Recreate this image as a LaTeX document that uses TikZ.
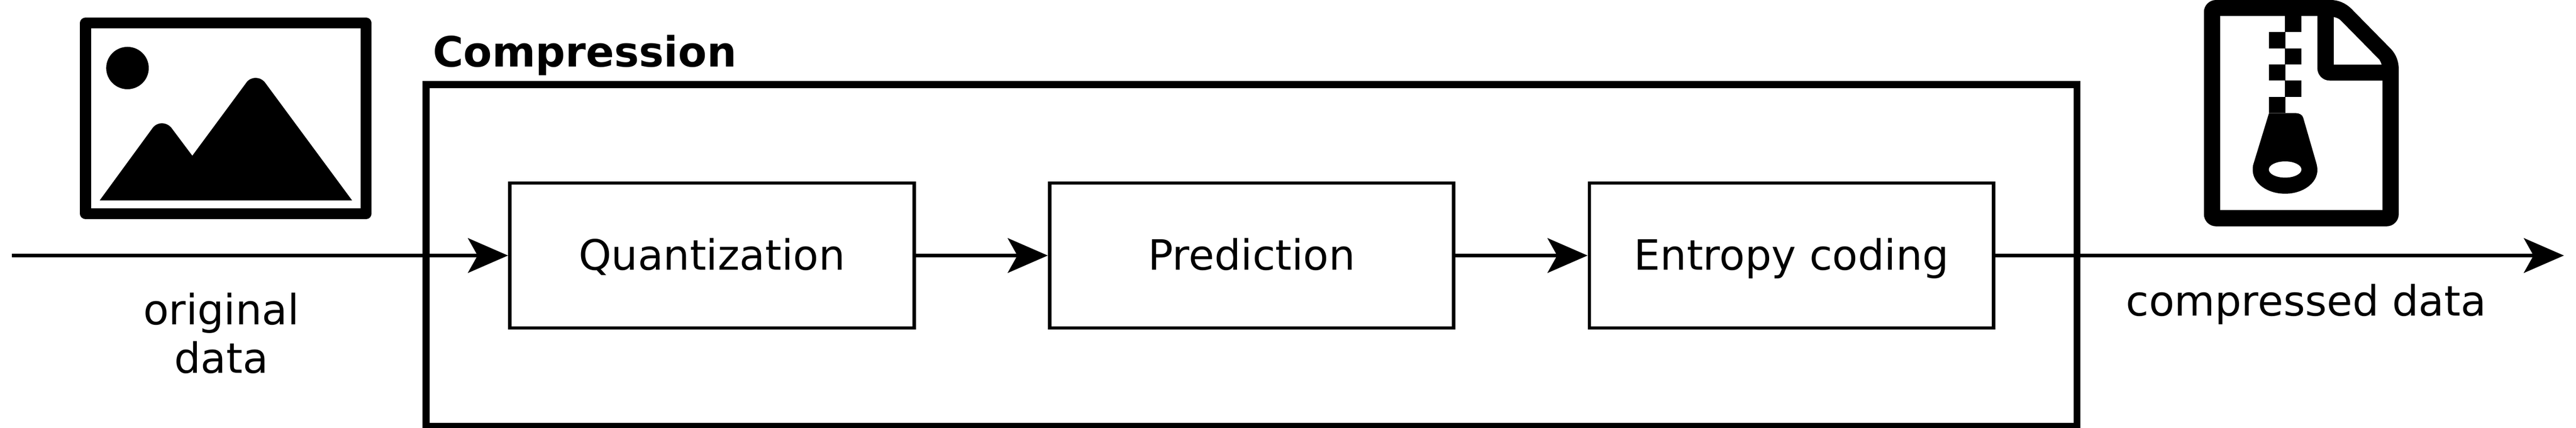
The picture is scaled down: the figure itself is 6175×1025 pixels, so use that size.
\documentclass[tikz,border=0pt]{standalone}
\usepackage{fontspec}
\setmainfont{DejaVu Sans}
\usetikzlibrary{arrows.meta,positioning}
\begin{document}
\begin{tikzpicture}
        [
        x = 0.1pt,
        y = -0.1pt,
        > = {Stealth[length=9.6pt,width=8.3pt,inset=2.3pt]},
        line width = 0.85pt,
        ]
        \tikzstyle{proc node}=[rectangle,draw,minimum width=96.9pt,minimum height=34.7pt,inner sep=0,text height=7pt,text depth=0pt]
        \tikzstyle{group node}=[rectangle,draw,line width=1.7pt,minimum width=395.8pt,minimum height=81.9pt,inner sep=0]
        \tikzstyle{label node}=[anchor=base,inner sep=0,align=center,font=\fontsize{10}{11.67}\selectfont]

        \useasboundingbox (0,0) rectangle (6175,1025);

        \node[group node] (compression) at (3000,612) {};
        \node[label node,font=\bfseries] (title) at (1402,160) {Compression};

        \node[proc node] (quant) at (1706.5,612) {Quantization};
        \node[proc node,right=31.65pt of quant] (pred) {Prediction};
        \node[proc node,right=31.65pt of pred] (entropy) {Entropy coding};

        \coordinate (input) at (28,612);
        \coordinate (output) at (6146,612);

        \draw[->] (input) -- (quant);
        \draw[->] (quant) -- (pred);
        \draw[->] (pred) -- (entropy);
        \draw[->] (entropy) -- (output);

        \node[label node] (origlabel) at (530.5,894) {original\\data};
        \node[label node] (complabel) at (5528,756.7) {compressed data};

        \draw[line width=2.6pt,line join=round] (205,55.3) rectangle (878,511.5);
        \fill (305.6,163) ellipse [x radius=51,y radius=50.7];
        \fill (239,480) -- (367,305) .. controls (378,292) and (398,292) .. (410,305)
            -- (461,373) -- (589,200) .. controls (600,182) and (625,182) .. (637,200)
            -- (844,480) -- cycle;

        \fill (5283,29) .. controls (5283,13) and (5296,0) .. (5312,0) -- (5587,0)
            .. controls (5605,0) and (5622,7) .. (5636.5,21) -- (5732,118)
            .. controls (5744,131) and (5750,148) .. (5750,165) -- (5750,513)
            .. controls (5750,529) and (5737,542) .. (5721,542) -- (5312,542)
            .. controls (5296,542) and (5283,529) .. (5283,513) -- cycle;
        \fill[white] (5322,38.6) -- (5555,38.6) -- (5555,164)
            .. controls (5555,180) and (5568,193) .. (5584,193)
            -- (5711,193) -- (5711,503) -- (5322,503) -- cycle;
        \fill[white] (5594.4,41) .. controls (5600,42) and (5605,44) .. (5610,48) -- (5703.5,143)
            .. controls (5706,147) and (5708,151) .. (5709,155) -- (5594.4,155) -- cycle;
        \foreach \zx/\zy/\zz in {5477.7/38.6/77,5439/77/116,5477.7/116/155,5439/155/193,5477.7/193/232,5439/232/271}
            \fill (\zx,\zy) rectangle ++(39,\zz-\zy);
        \fill (5439,271) -- (5402,392) .. controls (5400,398) and (5400,402) .. (5400,407)
            .. controls (5400,439) and (5435,464) .. (5477.7,464)
            .. controls (5520,464) and (5555,439) .. (5555,407)
            .. controls (5555,402) and (5554,396) .. (5552,389) -- (5521,282)
            .. controls (5519,275) and (5512,271) .. (5502.6,271) -- cycle;
        \fill[white] (5477.7,406) ellipse [x radius=39,y radius=19.4];
    \end{tikzpicture}
\end{document}
